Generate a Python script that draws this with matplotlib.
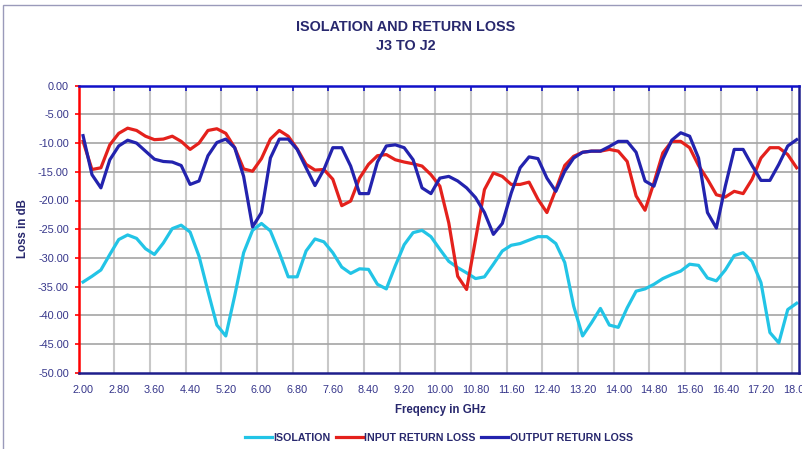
import numpy as np
import matplotlib
matplotlib.use("Agg")
import matplotlib.pyplot as plt
from matplotlib.ticker import FixedLocator, MultipleLocator
from matplotlib.patches import Rectangle

# Categories: frequency in GHz (0.2 GHz steps, 2.0 .. 18.0)
freq = np.round(2.0 + 0.2 * np.arange(81), 1)

isolation = [-34.2, -33.2, -32.1, -29.4, -26.8, -26.0, -26.6, -28.4, -29.4, -27.4,
             -24.9, -24.3, -25.5, -29.7, -35.8, -41.7, -43.6, -36.6, -29.1, -25.2,
             -24.0, -25.3, -29.1, -33.3, -33.3, -28.8, -26.7, -27.2, -29.1, -31.6,
             -32.7, -31.9, -32.0, -34.6, -35.4, -31.4, -27.7, -25.6, -25.2, -26.3,
             -28.5, -30.6, -31.7, -32.6, -33.6, -33.3, -31.1, -28.8, -27.8, -27.5,
             -26.9, -26.3, -26.3, -27.5, -30.8, -38.4, -43.6, -41.3, -38.8, -41.7,
             -42.1, -38.7, -35.8, -35.4, -34.6, -33.6, -32.9, -32.3, -31.1, -31.3,
             -33.5, -34.0, -32.1, -29.6, -29.1, -30.6, -34.3, -43.0, -44.8, -39.0,
             -37.9]

input_return_loss = [-9.7, -14.6, -14.3, -10.3, -8.3, -7.4, -7.8, -8.8, -9.4, -9.3,
                     -8.8, -9.7, -11.1, -10.0, -7.8, -7.5, -8.3, -10.8, -14.5, -14.9,
                     -12.7, -9.3, -7.8, -8.8, -11.0, -13.7, -14.7, -14.6, -16.3, -20.9,
                     -20.1, -16.1, -13.7, -12.2, -12.0, -12.9, -13.3, -13.6, -14.0, -15.5,
                     -17.5, -23.9, -33.2, -35.5, -26.8, -18.1, -15.2, -15.8, -17.2, -17.2,
                     -16.8, -19.8, -22.1, -18.1, -13.9, -12.3, -11.6, -11.4, -11.4, -11.1,
                     -11.4, -13.2, -19.2, -21.7, -16.9, -11.7, -9.7, -9.7, -10.8, -13.9,
                     -16.3, -19.0, -19.4, -18.4, -18.8, -16.3, -12.6, -10.8, -10.8, -12.0,
                     -14.3]

output_return_loss = [-8.7, -15.5, -17.8, -12.9, -10.5, -9.5, -10.0, -11.4, -12.8, -13.2,
                      -13.3, -13.9, -17.2, -16.6, -12.2, -9.9, -9.3, -10.8, -15.8, -24.6,
                      -22.1, -12.6, -9.3, -9.3, -11.1, -14.3, -17.4, -14.6, -10.8, -10.8,
                      -14.0, -18.8, -18.8, -13.3, -10.5, -10.3, -10.8, -12.9, -17.8, -18.8,
                      -16.1, -15.8, -16.6, -17.8, -19.5, -22.1, -25.9, -24.0, -18.7, -14.3,
                      -12.4, -12.7, -16.1, -18.4, -14.9, -12.6, -11.6, -11.4, -11.4, -10.6,
                      -9.7, -9.7, -11.6, -16.6, -17.5, -12.8, -9.5, -8.2, -8.8, -12.6,
                      -22.1, -24.8, -17.5, -11.1, -11.1, -13.9, -16.5, -16.5, -13.7, -10.5,
                      -9.4]

series_labels = ["ISOLATION", "INPUT RETURN LOSS", "OUTPUT RETURN LOSS"]
series_colors = ["#22C4E6", "#E4211C", "#2323AE"]

title_lines = ["ISOLATION AND RETURN LOSS", "J3 TO J2"]
x_label = "Freqency in GHz"
y_label = "Loss in dB"

W, H = 802, 449
plt.rcParams["font.family"] = ["Liberation Sans", "DejaVu Sans"]
fig = plt.figure(figsize=(W / 100, H / 100), dpi=100)
fig.patch.set_facecolor("white")

def fx(px):
    return px / W

def fy(py):
    return 1 - py / H

left_px, right_px, top_px, bot_px = 78.6, 799.0, 85.7, 372.7
ax = fig.add_axes([fx(left_px), fy(bot_px), (right_px - left_px) / W, (bot_px - top_px) / H])

# chart-area frame (partly cropped in the reference)
fig.patches.append(Rectangle((fx(3.3), -0.2), 2.0, fy(5.3) + 0.2, transform=fig.transFigure,
                             fill=False, edgecolor="#9A9ABA", linewidth=1.0, zorder=0))

for vals, col, lab in zip([isolation, input_return_loss, output_return_loss],
                          series_colors, series_labels):
    ax.plot(freq, vals, color=col, linewidth=2.3, label=lab, solid_joinstyle="round", zorder=3)

ax.set_xlim(1.9, 1.9 + (right_px - left_px) / 8.92 * 0.2)
ax.set_ylim(-50, 0)

# labelled ticks on category centres, grid on category boundaries
xt = freq[::4]
ax.xaxis.set_major_locator(FixedLocator(xt))
ax.set_xticklabels([f"{v:.2f}" for v in xt])
ax.xaxis.set_minor_locator(FixedLocator(np.round(np.arange(2.7, 18.0, 0.8), 1)))
ax.yaxis.set_major_locator(MultipleLocator(5))
ax.set_yticklabels([f"{v:.2f}" for v in ax.get_yticks()])

ax.grid(False)
for x in ax.xaxis.get_minorticklocs():
    ax.axvline(x, color="#C8C8C8", linewidth=1.5, zorder=1)
for y in np.arange(-45, 0, 5):
    ax.axhline(y, color="#A4A4A4", linewidth=1.2, zorder=1)

tick_color = "#35358A"
ax.tick_params(axis="x", which="major", length=0, pad=9, labelsize=7.8, labelcolor=tick_color)
ax.tick_params(axis="x", which="minor", bottom=False, top=True, direction="in",
               length=3.5, width=1.2, color="#1010C0")
ax.tick_params(axis="y", which="major", length=3, width=1.2, color="#FF0000",
               pad=4, labelsize=7.8, labelcolor=tick_color)

ax.spines["left"].set_color("#FF0000")
ax.spines["left"].set_linewidth(1.8)
ax.spines["top"].set_color("#1010C8")
ax.spines["top"].set_linewidth(1.8)
ax.spines["bottom"].set_color("#1E1E8C")
ax.spines["bottom"].set_linewidth(1.8)
ax.spines["right"].set_color("#1E1E8C")
ax.spines["right"].set_linewidth(1.8)
for s in ax.spines.values():
    s.set_zorder(4)

text_color = "#28286E"
fig.text(fx(405.8), fy(27), title_lines[0], ha="center", va="center",
         fontsize=10.4, fontweight="bold", color=text_color)
fig.text(fx(405.8), fy(46), title_lines[1], ha="center", va="center",
         fontsize=10.4, fontweight="bold", color=text_color)
fig.text(fx(440), fy(410), x_label, ha="center", va="center",
         fontsize=8.3, fontweight="bold", color=text_color)
fig.text(fx(23), fy(229), y_label, ha="center", va="center", rotation=90,
         fontsize=8.3, fontweight="bold", color=text_color)

handles, labels = ax.get_legend_handles_labels()
leg = fig.legend(handles, labels, ncol=3, loc="center", bbox_to_anchor=(fx(439), fy(438)),
                 frameon=False, fontsize=7.7, handlelength=2.5, handletextpad=0.15,
                 columnspacing=0.5, borderaxespad=0)
for t in leg.get_texts():
    t.set_color(text_color)
    t.set_fontweight("bold")

fig.savefig("out.png", dpi=100, facecolor="white")
